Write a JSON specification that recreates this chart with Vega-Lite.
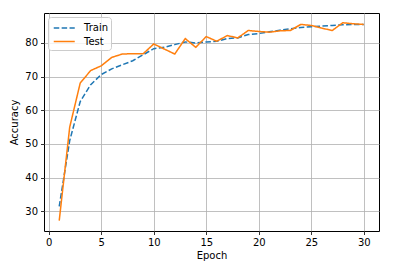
{
  "$schema": "https://vega.github.io/schema/vega-lite/v6.json",
  "width": 335,
  "height": 218,
  "autosize": "none",
  "padding": {"left": 44, "top": 13, "right": 25, "bottom": 39},
  "background": "white",
  "config": {
    "font": "DejaVu Sans",
    "view": {"stroke": "black", "strokeWidth": 1},
    "axis": {
      "labelFont": "DejaVu Sans",
      "titleFont": "DejaVu Sans",
      "labelFontSize": 10,
      "titleFontSize": 10,
      "titleFontWeight": "normal",
      "labelColor": "#000000",
      "titleColor": "#000000",
      "gridColor": "#b0b0b0",
      "gridWidth": 0.8,
      "gridOpacity": 1,
      "tickColor": "#000000",
      "tickSize": 3.5,
      "tickWidth": 0.8,
      "domain": false,
      "labelPadding": 3
    },
    "legend": {
      "labelFont": "DejaVu Sans",
      "labelFontSize": 10,
      "labelColor": "#000000"
    }
  },
  "data": {
    "values": [
      {"epoch": 1, "series": "Train", "acc": 31.4},
      {"epoch": 2, "series": "Train", "acc": 51.0},
      {"epoch": 3, "series": "Train", "acc": 62.6},
      {"epoch": 4, "series": "Train", "acc": 67.6},
      {"epoch": 5, "series": "Train", "acc": 70.6},
      {"epoch": 6, "series": "Train", "acc": 72.3},
      {"epoch": 7, "series": "Train", "acc": 73.5},
      {"epoch": 8, "series": "Train", "acc": 74.7},
      {"epoch": 9, "series": "Train", "acc": 76.5},
      {"epoch": 10, "series": "Train", "acc": 78.3},
      {"epoch": 11, "series": "Train", "acc": 78.7},
      {"epoch": 12, "series": "Train", "acc": 79.5},
      {"epoch": 13, "series": "Train", "acc": 80.3},
      {"epoch": 14, "series": "Train", "acc": 80.0},
      {"epoch": 15, "series": "Train", "acc": 80.3},
      {"epoch": 16, "series": "Train", "acc": 80.5},
      {"epoch": 17, "series": "Train", "acc": 81.3},
      {"epoch": 18, "series": "Train", "acc": 81.5},
      {"epoch": 19, "series": "Train", "acc": 82.5},
      {"epoch": 20, "series": "Train", "acc": 82.8},
      {"epoch": 21, "series": "Train", "acc": 83.3},
      {"epoch": 22, "series": "Train", "acc": 83.8},
      {"epoch": 23, "series": "Train", "acc": 84.2},
      {"epoch": 24, "series": "Train", "acc": 84.6},
      {"epoch": 25, "series": "Train", "acc": 84.8},
      {"epoch": 26, "series": "Train", "acc": 85.0},
      {"epoch": 27, "series": "Train", "acc": 85.2},
      {"epoch": 28, "series": "Train", "acc": 85.4},
      {"epoch": 29, "series": "Train", "acc": 85.5},
      {"epoch": 30, "series": "Train", "acc": 85.5},
      {"epoch": 1, "series": "Test", "acc": 27.2},
      {"epoch": 2, "series": "Test", "acc": 55.0},
      {"epoch": 3, "series": "Test", "acc": 68.1},
      {"epoch": 4, "series": "Test", "acc": 71.8},
      {"epoch": 5, "series": "Test", "acc": 73.2},
      {"epoch": 6, "series": "Test", "acc": 75.7},
      {"epoch": 7, "series": "Test", "acc": 76.7},
      {"epoch": 8, "series": "Test", "acc": 76.8},
      {"epoch": 9, "series": "Test", "acc": 76.8},
      {"epoch": 10, "series": "Test", "acc": 79.7},
      {"epoch": 11, "series": "Test", "acc": 78.2},
      {"epoch": 12, "series": "Test", "acc": 76.7},
      {"epoch": 13, "series": "Test", "acc": 81.3},
      {"epoch": 14, "series": "Test", "acc": 78.7},
      {"epoch": 15, "series": "Test", "acc": 81.9},
      {"epoch": 16, "series": "Test", "acc": 80.5},
      {"epoch": 17, "series": "Test", "acc": 82.2},
      {"epoch": 18, "series": "Test", "acc": 81.5},
      {"epoch": 19, "series": "Test", "acc": 83.7},
      {"epoch": 20, "series": "Test", "acc": 83.4},
      {"epoch": 21, "series": "Test", "acc": 83.2},
      {"epoch": 22, "series": "Test", "acc": 83.6},
      {"epoch": 23, "series": "Test", "acc": 83.7},
      {"epoch": 24, "series": "Test", "acc": 85.5},
      {"epoch": 25, "series": "Test", "acc": 85.2},
      {"epoch": 26, "series": "Test", "acc": 84.4},
      {"epoch": 27, "series": "Test", "acc": 83.7},
      {"epoch": 28, "series": "Test", "acc": 86.0},
      {"epoch": 29, "series": "Test", "acc": 85.7},
      {"epoch": 30, "series": "Test", "acc": 85.5}
    ]
  },
  "mark": {"type": "line", "strokeWidth": 1.5, "clip": true},
  "encoding": {
    "x": {
      "field": "epoch",
      "type": "quantitative",
      "title": "Epoch",
      "scale": {"domain": [-0.45, 31.45], "nice": false, "zero": false},
      "axis": {"values": [0, 5, 10, 15, 20, 25, 30], "titlePadding": 3}
    },
    "y": {
      "field": "acc",
      "type": "quantitative",
      "title": "Accuracy",
      "scale": {"domain": [24.1, 88.9], "nice": false, "zero": false},
      "axis": {"values": [30, 40, 50, 60, 70, 80], "titlePadding": 5}
    },
    "color": {
      "field": "series",
      "type": "nominal",
      "scale": {"domain": ["Train", "Test"], "range": ["#1f77b4", "#ff7f0e"]},
      "legend": {
        "title": null,
        "orient": "top-left",
        "offset": 3.5,
        "padding": 3,
        "fillColor": "rgba(255,255,255,0.8)",
        "strokeColor": "#cccccc",
        "cornerRadius": 3,
        "symbolType": "M-0.75,0H2.25",
        "symbolSize": 196,
        "symbolStrokeWidth": 1.5,
        "symbolFillColor": "transparent",
        "labelOffset": 17,
        "rowPadding": 0.5
      }
    },
    "strokeDash": {
      "field": "series",
      "type": "nominal",
      "scale": {"domain": ["Train", "Test"], "range": [[5.5, 2.4], [1, 0]]},
      "legend": null
    }
  }
}
